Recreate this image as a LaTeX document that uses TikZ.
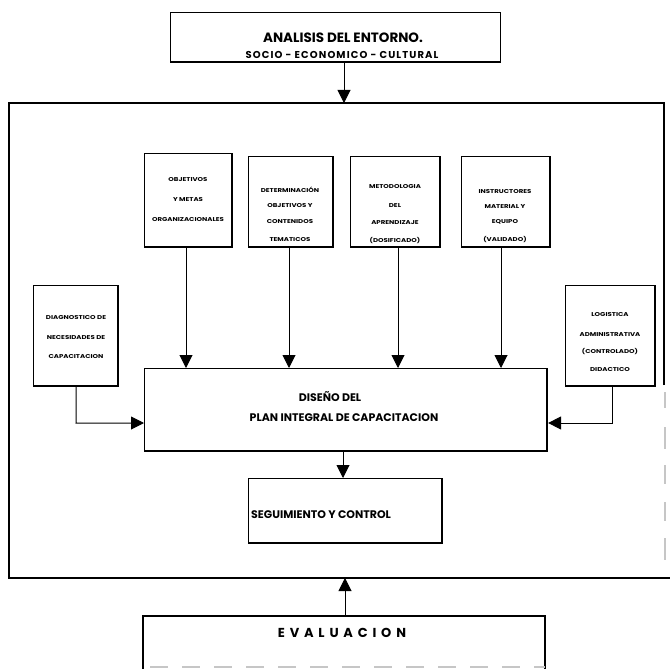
\documentclass[tikz,border=0pt]{standalone}
\usepackage{fontspec}
\setmainfont{Poppins}
\usetikzlibrary{arrows.meta}
\begin{document}
\begin{tikzpicture}[x=1pt,y=-1pt,
  box/.style={draw=black,line width=1.1pt},
  shade/.style={draw=black,line width=2.4pt},
  link/.style={draw=black,line width=1pt,-{Triangle[length=13pt,width=13pt]}},
  tiny/.style={font=\bfseries\fontsize{5.6}{6}\selectfont\addfontfeature{FakeStretch=1.25},inner sep=0pt},
  mid/.style={font=\bfseries\fontsize{11}{13}\selectfont,inner sep=0pt},
  big/.style={font=\bfseries\fontsize{13.5}{15}\selectfont,inner sep=0pt}]
\useasboundingbox (0,0) rectangle (670,669);

% outer frame
\draw[box,line width=1.4pt] (664,385) -- (664,103) -- (9,103) -- (9,578) -- (670,578);
\foreach \a/\b in {392/408,427/449,465/484,502/521,538/560}
  \draw[gray!45,line width=2pt] (665,\a) -- (665,\b);

% environment analysis
\node[box,minimum width=330pt,minimum height=50pt,anchor=north west,inner sep=0pt] (env) at (170,12) {};
\draw[shade] (170,62) -- (500,62);
\node[big] (envt) at (343,38) {ANALISIS DEL ENTORNO.};
\node[font=\bfseries\fontsize{10}{11}\selectfont\addfontfeature{LetterSpace=11},inner sep=0pt] (envs) at (342,55) {SOCIO - ECONOMICO - CULTURAL};
\coordinate (envout) at (344,62);
\coordinate (frin) at (344,103);
\draw[link] (envout) -- (frin);

% upper input boxes
\foreach \n/\l/\t/\r in {b1/144/153/232, b2/248/156/333, b3/350/156/440, b4/461/156/550}{
  \node[box,anchor=north west,minimum width={\r-\l},minimum height={247-\t},inner sep=0pt] (\n) at (\l,\t) {};
  \draw[shade] (\l,247) -- (\r,247) -- (\r,\t);
}
\node[tiny] at (188,180) {OBJETIVOS};
\node[tiny] at (188,200) {Y METAS};
\node[tiny] at (188,220) {ORGANIZACIONALES};
\node[tiny] at (290,190) {DETERMINACIÓN};
\node[tiny] at (290,206) {OBJETIVOS Y};
\node[tiny] at (290,222) {CONTENIDOS};
\node[tiny] at (290,240) {TEMATICOS};
\node[tiny] at (395,187) {METODOLOGIA};
\node[tiny] at (395,206) {DEL};
\node[tiny] at (395,223) {APRENDIZAJE};
\node[tiny] at (395,241) {(DOSIFICADO)};
\node[tiny] at (505,192) {INSTRUCTORES};
\node[tiny] at (505,207) {MATERIAL Y};
\node[tiny] at (505,222) {EQUIPO};
\node[tiny] at (505,240) {(VALIDADO)};

% side input boxes
\node[box,anchor=north west,minimum width=85pt,minimum height=101pt,inner sep=0pt] (diag) at (33,285) {};
\draw[shade] (33,386) -- (118,386) -- (118,285);
\node[tiny] at (76,318) {DIAGNOSTICO DE};
\node[tiny] at (76,338) {NECESIDADES DE};
\node[tiny] at (76,357) {CAPACITACION};
\node[box,anchor=north west,minimum width=90pt,minimum height=101pt,inner sep=0pt] (logi) at (565,285) {};
\draw[shade] (565,386) -- (655,386) -- (655,285);
\node[tiny] at (610,315) {LOGISTICA};
\node[tiny] at (610,335) {ADMINISTRATIVA};
\node[tiny] at (610,352) {(CONTROLADO)};
\node[tiny] at (610,370) {DIDACTICO};

% training plan design
\node[box,anchor=north west,minimum width=403pt,minimum height=83pt,inner sep=0pt] (plan) at (144,368) {};
\draw[shade] (144,451) -- (547,451) -- (547,368);
\node[mid] at (330,397) {DISEÑO DEL};
\node[mid] at (344,418) {PLAN INTEGRAL DE CAPACITACION};

\foreach \n/\x in {b1/186,b2/289,b3/398,b4/501}
  \draw[link] (\n.south -| \x,0) -- (plan.north -| \x,0);
\coordinate (dl) at (76,423);
\coordinate (dr) at (612,423);
\draw[link] (diag.south) -- (dl) -- (plan.west |- dl);
\draw[link] (logi.south -| dr) -- (dr) -- (plan.east |- dr);

% follow-up
\node[box,anchor=north west,minimum width=194pt,minimum height=65pt,inner sep=0pt] (seg) at (248,478) {};
\draw[shade] (248,543) -- (442,543) -- (442,478);
\node[mid,anchor=west] at (251,515) {SEGUIMIENTO Y CONTROL};
\draw[link] (plan.south -| 343,0) -- (seg.north -| 343,0);

% evaluation
\draw[box] (143,669) -- (143,616) -- (545,616) -- (545,669);
\draw[shade] (545,616) -- (545,669);
\node[font=\bfseries\fontsize{13}{15}\selectfont\addfontfeature{LetterSpace=37},inner sep=0pt] (evt) at (342,633) {EVALUACION};
\draw[gray!45,line width=2pt,dash pattern=on 18pt off 14pt] (150,667) -- (545,667);
\coordinate (evtop) at (345,616);
\coordinate (frbot) at (345,578);
\draw[link] (evtop) -- (frbot);
\end{tikzpicture}
\end{document}
